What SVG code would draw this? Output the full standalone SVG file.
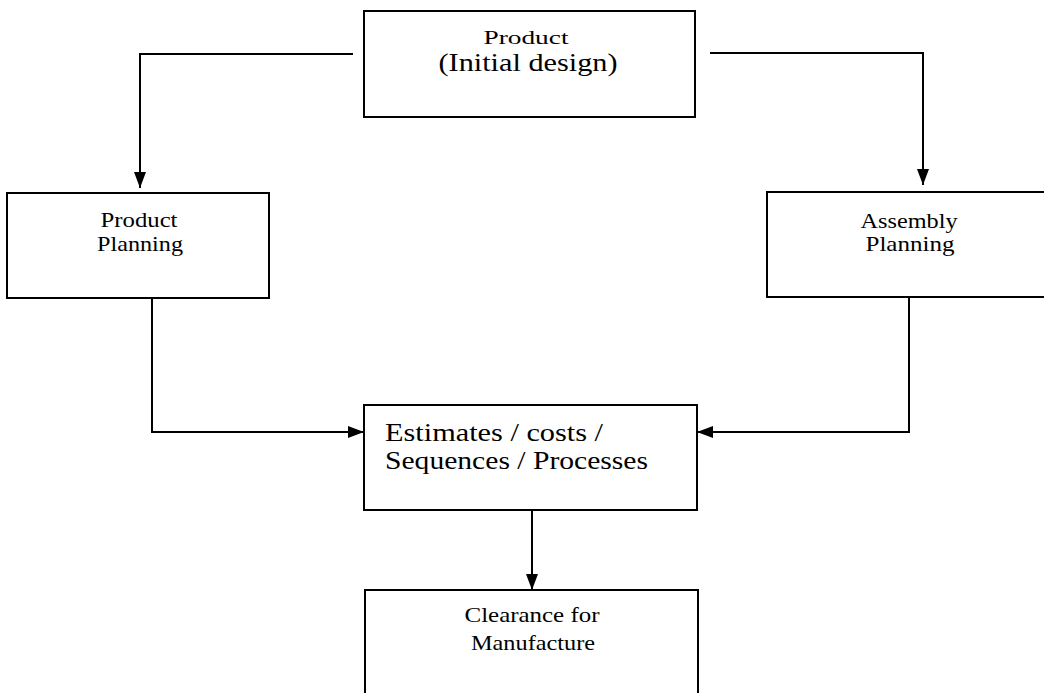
<svg xmlns="http://www.w3.org/2000/svg" width="1044" height="693" viewBox="0 0 1044 693">
  <defs>
    <marker id="arrow" viewBox="0 0 16 12" refX="16" refY="6" markerWidth="16" markerHeight="12" markerUnits="userSpaceOnUse" orient="auto">
      <path d="M0,0 L16,6 L0,12 Z" fill="#000"/>
    </marker>
  </defs>
  <style>
    .box { fill: #fff; stroke: #000; stroke-width: 2; }
    .link { fill: none; stroke: #000; stroke-width: 2; marker-end: url(#arrow); }
    text { font-family: "Liberation Serif", "Times New Roman", serif; fill: #000; text-anchor: middle; }
    .xs { font-size: 19px; }
    .s { font-size: 21px; }
    .m { font-size: 22px; }
    .l { font-size: 25px; }
  </style>
  <rect width="1044" height="693" fill="#fff"/>

  <g id="connectors">
    <polyline class="link" points="353,54 140,54 140,188"/>
    <polyline class="link" points="710,53 923,53 923,185"/>
    <polyline class="link" points="152,298 152,432 364,432"/>
    <polyline class="link" points="909,297 909,432 697,432"/>
    <line class="link" x1="532" y1="510" x2="532" y2="590"/>
  </g>

  <g id="product-initial-design">
    <rect class="box" x="364" y="11" width="331" height="106"/>
    <text class="xs" x="526" y="44" textLength="85" lengthAdjust="spacingAndGlyphs">Product</text>
    <text class="l" x="528" y="71" textLength="179" lengthAdjust="spacingAndGlyphs">(Initial design)</text>
  </g>

  <g id="product-planning">
    <rect class="box" x="7" y="193" width="262" height="105"/>
    <text class="s" x="139" y="227" textLength="77" lengthAdjust="spacingAndGlyphs">Product</text>
    <text class="s" x="140" y="251" textLength="86" lengthAdjust="spacingAndGlyphs">Planning</text>
  </g>

  <g id="assembly-planning">
    <rect class="box" x="767" y="192" width="290" height="105"/>
    <text class="s" x="909" y="228" textLength="97" lengthAdjust="spacingAndGlyphs">Assembly</text>
    <text class="s" x="910" y="251" textLength="89" lengthAdjust="spacingAndGlyphs">Planning</text>
  </g>

  <g id="estimates">
    <rect class="box" x="364" y="405" width="333" height="105"/>
    <text class="l" x="385" y="441" textLength="218" lengthAdjust="spacingAndGlyphs" style="text-anchor:start">Estimates / costs /</text>
    <text class="l" x="385" y="469" textLength="263" lengthAdjust="spacingAndGlyphs" style="text-anchor:start">Sequences / Processes</text>
  </g>

  <g id="clearance">
    <path class="box" d="M365,700 L365,590 L698,590 L698,700"/>
    <text class="m" x="532" y="622" textLength="135" lengthAdjust="spacingAndGlyphs">Clearance for</text>
    <text class="m" x="533" y="650" textLength="124" lengthAdjust="spacingAndGlyphs">Manufacture</text>
  </g>
</svg>
